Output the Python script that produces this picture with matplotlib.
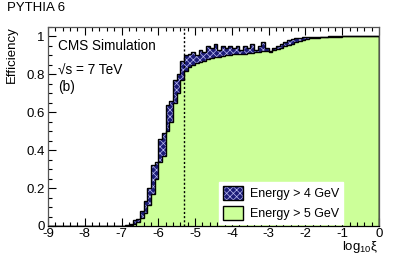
import numpy as np
import matplotlib
matplotlib.use("Agg")
import matplotlib.pyplot as plt
from matplotlib.patches import Patch
from matplotlib.ticker import MultipleLocator, FuncFormatter

plt.rcParams["font.family"] = ["Liberation Sans", "DejaVu Sans"]
plt.rcParams["mathtext.fontset"] = "custom"
plt.rcParams["mathtext.rm"] = "Liberation Sans"
plt.rcParams["mathtext.it"] = "Liberation Sans"
plt.rcParams["axes.unicode_minus"] = False
plt.rcParams["hatch.linewidth"] = 0.5

# bin edges in log10(xi), 0.1 wide from -9 to 0
bin_edges = np.round(np.arange(-9.0, 0.001, 0.1), 2)

# efficiency, Energy > 4 GeV (bins -9.0 ... -0.1)
eff_4gev = [
    0, 0, 0, 0, 0, 0, 0, 0, 0, 0,
    0, 0, 0, 0, 0, 0, 0, 0, 0, 0,
    0.002, 0.004, 0.012, 0.03, 0.035, 0.08, 0.13, 0.20, 0.32, 0.34,
    0.46, 0.49, 0.64, 0.66, 0.77, 0.80, 0.87, 0.90, 0.91, 0.92,
    0.90, 0.93, 0.92, 0.95, 0.94, 0.96, 0.93, 0.95, 0.94, 0.95,
    0.94, 0.95, 0.93, 0.95, 0.94, 0.96, 0.93, 0.95, 0.97, 0.94,
    0.92, 0.94, 0.95, 0.96, 0.97, 0.98, 0.985, 0.99, 0.99, 0.995,
    0.995, 0.997, 0.998, 0.998, 0.999, 0.999, 1.0, 1.0, 1.0, 1.0,
    1.0, 1.0, 1.0, 1.0, 1.0, 1.0, 1.0, 1.0, 1.0, 1.0,
]

# efficiency, Energy > 5 GeV
eff_5gev = [
    0, 0, 0, 0, 0, 0, 0, 0, 0, 0,
    0, 0, 0, 0, 0, 0, 0, 0, 0, 0,
    0.0, 0.002, 0.004, 0.01, 0.02, 0.04, 0.07, 0.11, 0.17, 0.25,
    0.34, 0.37, 0.50, 0.55, 0.65, 0.70, 0.77, 0.82, 0.84, 0.85,
    0.86, 0.865, 0.87, 0.88, 0.885, 0.89, 0.89, 0.895, 0.90, 0.90,
    0.905, 0.91, 0.91, 0.91, 0.915, 0.915, 0.92, 0.92, 0.925, 0.925,
    0.925, 0.93, 0.935, 0.94, 0.95, 0.955, 0.96, 0.97, 0.975, 0.98,
    0.985, 0.99, 0.99, 0.993, 0.995, 0.996, 0.997, 0.998, 0.999, 0.999,
    1.0, 1.0, 1.0, 1.0, 1.0, 1.0, 1.0, 1.0, 1.0, 1.0,
]

xi_cut = -5.3

blue = "#1c1c78"
hatch_col = "#b8b8f0"
green = "#ccff99"

fig = plt.figure(figsize=(3.99, 2.63), dpi=100)
ax = fig.add_axes([48 / 399, 1 - 226 / 263, 331 / 399, 199 / 263])

ax.stairs(eff_4gev, bin_edges, fill=True, facecolor=blue, edgecolor=hatch_col,
          hatch="xxxxx", linewidth=0)
ax.stairs(eff_5gev, bin_edges, fill=True, facecolor=green, linewidth=0)
ax.stairs(eff_4gev, bin_edges, color="black", linewidth=1.0)
ax.stairs(eff_5gev, bin_edges, color="black", linewidth=1.0)

ax.axvline(xi_cut, color="black", linestyle=(0, (1.5, 1.5)), linewidth=1.0)

ax.set_xlim(-9, 0)
ax.set_ylim(0, 1.05)

ax.xaxis.set_major_locator(MultipleLocator(1))
ax.xaxis.set_minor_locator(MultipleLocator(0.2))
ax.yaxis.set_major_locator(MultipleLocator(0.2))
ax.yaxis.set_minor_locator(MultipleLocator(0.05))
ax.xaxis.set_major_formatter(FuncFormatter(lambda v, p: f"{v:g}"))
ax.yaxis.set_major_formatter(FuncFormatter(lambda v, p: f"{v:g}"))

ax.tick_params(which="both", direction="in", top=True, right=False,
               labelsize=9.5, colors="black")
ax.tick_params(axis="x", pad=1.5)
ax.tick_params(axis="y", pad=2.5)
ax.tick_params(which="major", length=6, width=0.8)
ax.tick_params(which="minor", length=3, width=0.8)
for s in ax.spines.values():
    s.set_color("#555555")
    s.set_linewidth(0.9)
ax.spines["bottom"].set_color("black")

fig.text(7 / 399, 1 - 8 / 263, "PYTHIA 6", fontsize=9.5, ha="left", va="center")
fig.text(12 / 399, 1 - 26 / 263, "Efficiency", fontsize=9.5, rotation=90,
         ha="center", va="top")
fig.text(378 / 399, 1 - 247 / 263, r"log$_{10}$ξ", fontsize=9.5,
         ha="right", va="center")

fig.text(58 / 399, 1 - 46 / 263, "CMS Simulation", fontsize=9.8, va="center")
fig.text(58 / 399, 1 - 71 / 263, "√s = 7 TeV", fontsize=9.8, va="center")
fig.text(58 / 399, 1 - 87 / 263, "(b)", fontsize=9.8, va="center")

h4 = (Patch(facecolor=blue, edgecolor=hatch_col, hatch="xxxxx", linewidth=0),
      Patch(facecolor="none", edgecolor="black", linewidth=1.0))
h5 = Patch(facecolor=green, edgecolor="black", linewidth=1.0)
leg = ax.legend([h4, h5], ["Energy > 4 GeV", "Energy > 5 GeV"],
                loc="lower left", bbox_to_anchor=(171 / 331, 2 / 199),
                fontsize=9, frameon=True, fancybox=False, framealpha=1,
                edgecolor="white", handlelength=1.65, handleheight=1.35,
                labelspacing=0.5, handletextpad=0.5, borderpad=0.3,
                borderaxespad=0)

fig.savefig("out.png", dpi=100)
